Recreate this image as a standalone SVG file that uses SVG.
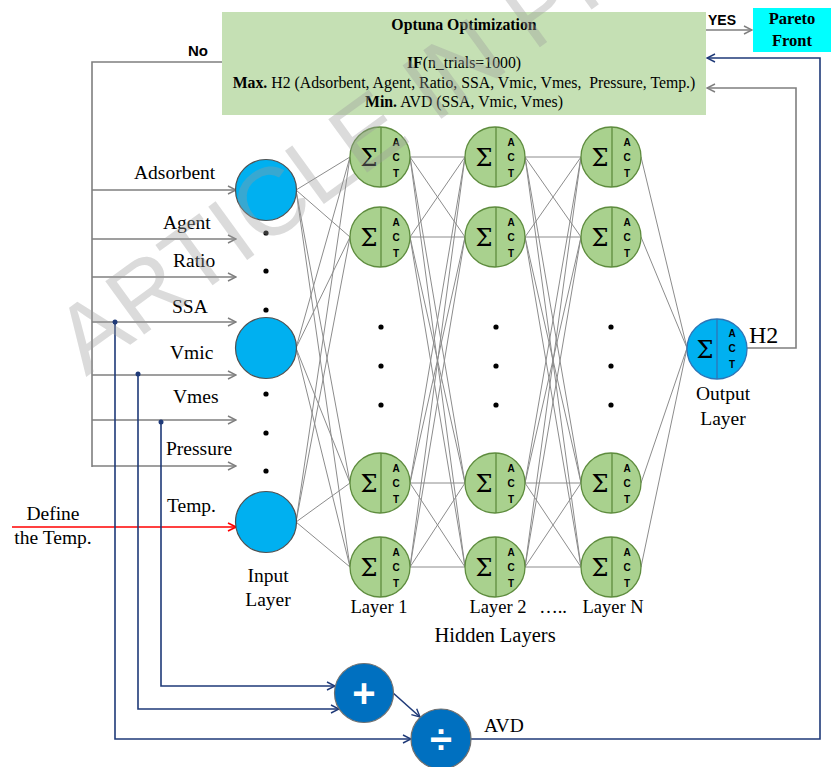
<svg xmlns="http://www.w3.org/2000/svg" width="831" height="767" viewBox="0 0 831 767">
  <style>
    .serif { font-family: "Liberation Serif", "Times New Roman", serif; fill: #000; }
    .lbl { font-size: 19.5px; }
    .head { font-size: 15.8px; }
    .b { font-weight: bold; }
    .sans { font-family: "Liberation Sans", Arial, sans-serif; font-weight: bold; fill: #000; }
    .act { font-family: "Liberation Sans", Arial, sans-serif; font-weight: bold; font-size: 10px; text-anchor: middle; fill: #000; }
    .sig { font-family: "DejaVu Serif", "Liberation Serif", serif; font-size: 24px; text-anchor: middle; fill: #000; }
    .mid { text-anchor: middle; }
    .hid { fill: #A9D18E; stroke: #5E8C3E; stroke-width: 1.3; }
    .hdiv { stroke: #5E8C3E; stroke-width: 1.3; }
    .inp { fill: #00B0F0; stroke: #505050; stroke-width: 1.2; }
    .op { fill: #0070C0; stroke: #707070; stroke-width: 1.2; }
    .wire { fill: none; stroke: #8C8C8C; stroke-width: 1; }
    .gray { fill: none; stroke: #7F7F7F; stroke-width: 1.6; }
    .navy { fill: none; stroke: #1F3A78; stroke-width: 1.6; }
    .red { fill: none; stroke: #FF0000; stroke-width: 1.6; }
    .dot { fill: #000; }
    .tap { fill: #1F3A78; }
  </style>
  <defs>
    <marker id="ahGray" viewBox="0 0 10 10" refX="9" refY="5" markerWidth="10" markerHeight="10" markerUnits="userSpaceOnUse" orient="auto">
      <path d="M1,1 L9,5 L1,9" fill="none" stroke="#7F7F7F" stroke-width="1.4"/>
    </marker>
    <marker id="ahNavy" viewBox="0 0 10 10" refX="9" refY="5" markerWidth="10" markerHeight="10" markerUnits="userSpaceOnUse" orient="auto">
      <path d="M1,1 L9,5 L1,9" fill="none" stroke="#1F3A78" stroke-width="1.4"/>
    </marker>
    <marker id="ahRed" viewBox="0 0 10 10" refX="9" refY="5" markerWidth="10" markerHeight="10" markerUnits="userSpaceOnUse" orient="auto">
      <path d="M1,1 L9,5 L1,9" fill="none" stroke="#FF0000" stroke-width="1.6"/>
    </marker>
    <!-- hidden neuron: summation half + activation half -->
    <g id="neuron">
      <circle class="hid" cx="0" cy="0" r="30"/>
      <line class="hdiv" x1="1" y1="-30" x2="1" y2="30"/>
      <text class="sig" x="-11" y="9">Σ</text>
      <text class="act" x="16" y="-11">A</text>
      <text class="act" x="16" y="4">C</text>
      <text class="act" x="16" y="20">T</text>
    </g>
  </defs>

  <rect width="831" height="767" fill="#FFFFFF"/>

  <!-- connectors -->
  <g id="connectors">
    <!-- network weights -->
    <path class="wire" d="
      M296,190 L350,157 M296,190 L350,237 M296,190 L350,483 M296,190 L350,567
      M296,348 L350,157 M296,348 L350,237 M296,348 L350,483 M296,348 L350,567
      M296,522 L350,157 M296,522 L350,237 M296,522 L350,483 M296,522 L350,567
      M410,157 L465,157 M410,157 L465,237 M410,157 L465,483 M410,157 L465,567
      M410,237 L465,157 M410,237 L465,237 M410,237 L465,483 M410,237 L465,567
      M410,483 L465,157 M410,483 L465,237 M410,483 L465,483 M410,483 L465,567
      M410,567 L465,157 M410,567 L465,237 M410,567 L465,483 M410,567 L465,567
      M525,157 L581,157 M525,157 L581,237 M525,157 L581,483 M525,157 L581,567
      M525,237 L581,157 M525,237 L581,237 M525,237 L581,483 M525,237 L581,567
      M525,483 L581,157 M525,483 L581,237 M525,483 L581,483 M525,483 L581,567
      M525,567 L581,157 M525,567 L581,237 M525,567 L581,483 M525,567 L581,567
      M641,157 L687,348 M641,237 L687,348 M641,483 L687,348 M641,567 L687,348"/>

    <!-- "No" branch feeding the inputs -->
    <path class="gray" d="M222,62 L92,62 L92,467"/>
    <line class="gray" x1="92" y1="190" x2="236" y2="190" marker-end="url(#ahGray)"/>
    <line class="gray" x1="92" y1="239" x2="236" y2="239" marker-end="url(#ahGray)"/>
    <line class="gray" x1="92" y1="277" x2="236" y2="277" marker-end="url(#ahGray)"/>
    <line class="gray" x1="92" y1="322" x2="236" y2="322" marker-end="url(#ahGray)"/>
    <line class="gray" x1="92" y1="375" x2="236" y2="375" marker-end="url(#ahGray)"/>
    <line class="gray" x1="92" y1="420" x2="236" y2="420" marker-end="url(#ahGray)"/>
    <line class="gray" x1="92" y1="466" x2="236" y2="466" marker-end="url(#ahGray)"/>

    <!-- temperature definition -->
    <line class="red" x1="12" y1="527" x2="236" y2="527" marker-end="url(#ahRed)"/>

    <!-- AVD branch: SSA, Vmic, Vmes taps -->
    <path class="navy" d="M161,422 L161,686 L335,686" marker-end="url(#ahNavy)"/>
    <path class="navy" d="M138,375 L138,709 L339,709" marker-end="url(#ahNavy)"/>
    <path class="navy" d="M115,322 L115,739 L411,739" marker-end="url(#ahNavy)"/>
    <circle class="tap" cx="161" cy="422" r="2.5"/>
    <circle class="tap" cx="138" cy="374" r="2.5"/>
    <circle class="tap" cx="115" cy="322" r="2.5"/>
    <line class="navy" x1="392" y1="692" x2="420" y2="717" marker-end="url(#ahNavy)"/>

    <!-- feedback to the optimiser -->
    <path class="navy" d="M471,739 L820,739 L820,58 L707,58" marker-end="url(#ahNavy)"/>
    <path class="gray" d="M747,348 L796,348 L796,88 L707,88" marker-end="url(#ahGray)"/>
    <line class="gray" x1="706" y1="30" x2="752" y2="30" marker-end="url(#ahGray)"/>
  </g>

  <!-- optimiser -->
  <g id="optuna">
    <rect x="222" y="12" width="484" height="103" fill="#C5E0B4"/>
    <text class="serif head b mid" x="464" y="30">Optuna Optimization</text>
    <text class="serif head mid" x="464" y="68"><tspan class="b">IF</tspan>(n_trials=1000)</text>
    <text class="serif head mid" x="464" y="88" style="white-space:pre"><tspan class="b">Max.</tspan> H2 (Adsorbent, Agent, Ratio, SSA, Vmic, Vmes,  Pressure, Temp.)</text>
    <text class="serif head mid" x="464" y="107"><tspan class="b">Min.</tspan> AVD (SSA, Vmic, Vmes)</text>
  </g>

  <g id="pareto">
    <rect x="753" y="8" width="78" height="44" fill="#00FFFF"/>
    <text class="serif b mid" x="792" y="24" font-size="16.5">Pareto</text>
    <text class="serif b mid" x="792" y="46" font-size="16.5">Front</text>
  </g>

  <g id="flags">
    <text class="sans" x="708" y="25" font-size="14">YES</text>
    <text class="sans" x="188" y="56" font-size="15">No</text>
  </g>

  <!-- input labels -->
  <g id="input-labels" class="serif lbl">
    <text x="134" y="179">Adsorbent</text>
    <text x="163" y="229">Agent</text>
    <text x="173" y="267">Ratio</text>
    <text x="172" y="313">SSA</text>
    <text x="170" y="359">Vmic</text>
    <text x="173" y="403">Vmes</text>
    <text x="166" y="455">Pressure</text>
    <text x="167" y="512">Temp.</text>
    <text class="mid" x="53" y="520">Define</text>
    <text class="mid" x="53" y="544">the Temp.</text>
  </g>

  <!-- input layer -->
  <g id="input-layer">
    <circle class="inp" cx="266" cy="190" r="30.5"/>
    <circle class="inp" cx="266" cy="348" r="30.5"/>
    <circle class="inp" cx="266" cy="522" r="30.5"/>
    <circle class="dot" cx="266" cy="233" r="2.6"/>
    <circle class="dot" cx="266" cy="271" r="2.6"/>
    <circle class="dot" cx="266" cy="310" r="2.6"/>
    <circle class="dot" cx="266" cy="394" r="2.6"/>
    <circle class="dot" cx="266" cy="433" r="2.6"/>
    <circle class="dot" cx="266" cy="471" r="2.6"/>
    <text class="serif lbl mid" x="268" y="582">Input</text>
    <text class="serif lbl mid" x="268" y="606">Layer</text>
  </g>

  <g id="hidden-layer-1">
    <use href="#neuron" x="380" y="157"/>
    <use href="#neuron" x="380" y="237"/>
    <use href="#neuron" x="380" y="483"/>
    <use href="#neuron" x="380" y="567"/>
    <circle class="dot" cx="381" cy="327" r="2.6"/>
    <circle class="dot" cx="381" cy="366" r="2.6"/>
    <circle class="dot" cx="381" cy="405" r="2.6"/>
    <text class="serif mid" x="379" y="613" font-size="18.5">Layer 1</text>
  </g>

  <g id="hidden-layer-2">
    <use href="#neuron" x="495" y="157"/>
    <use href="#neuron" x="495" y="237"/>
    <use href="#neuron" x="495" y="483"/>
    <use href="#neuron" x="495" y="567"/>
    <circle class="dot" cx="496" cy="327" r="2.6"/>
    <circle class="dot" cx="496" cy="366" r="2.6"/>
    <circle class="dot" cx="496" cy="405" r="2.6"/>
    <text class="serif mid" x="498" y="613" font-size="18.5">Layer 2</text>
    <text class="serif mid" x="553" y="613" font-size="18.5">…..</text>
  </g>

  <g id="hidden-layer-n">
    <use href="#neuron" x="611" y="157"/>
    <use href="#neuron" x="611" y="237"/>
    <use href="#neuron" x="611" y="483"/>
    <use href="#neuron" x="611" y="567"/>
    <circle class="dot" cx="611" cy="327" r="2.6"/>
    <circle class="dot" cx="611" cy="366" r="2.6"/>
    <circle class="dot" cx="611" cy="405" r="2.6"/>
    <text class="serif mid" x="613" y="613" font-size="18.5">Layer N</text>
  </g>

  <text class="serif mid" x="495" y="642" font-size="20.5">Hidden Layers</text>

  <!-- output layer -->
  <g id="output-layer">
    <circle cx="717" cy="349" r="30" fill="#00B0F0" stroke="#2E75B6" stroke-width="1.3"/>
    <line x1="717" y1="319" x2="717" y2="379" stroke="#2E75B6" stroke-width="1.3"/>
    <text class="sig" x="705" y="358">Σ</text>
    <text class="act" x="732" y="337">A</text>
    <text class="act" x="732" y="352">C</text>
    <text class="act" x="732" y="368">T</text>
    <text class="serif mid" x="723" y="400" font-size="19.5">Output</text>
    <text class="serif mid" x="723" y="425" font-size="19.5">Layer</text>
    <text class="serif" x="749" y="343" font-size="24">H2</text>
  </g>

  <!-- AVD = (Vmic + Vmes) / SSA -->
  <g id="sum">
    <circle class="op" cx="364" cy="693" r="29.5"/>
    <text x="364" y="707" font-family="Liberation Sans, Arial, sans-serif" font-size="40" font-weight="bold" fill="#FFFFFF" text-anchor="middle">+</text>
  </g>
  <g id="divide">
    <circle class="op" cx="441" cy="739" r="30"/>
    <text x="441" y="753" font-family="Liberation Sans, Arial, sans-serif" font-size="40" font-weight="bold" fill="#FFFFFF" text-anchor="middle">÷</text>
    <text class="serif" x="484" y="732" font-size="19.5">AVD</text>
  </g>

  <!-- publisher stamp -->
  <text x="86" y="377" transform="rotate(-36 86 377)" font-family="Liberation Sans, Arial, sans-serif" font-size="96" fill="#9A9A9A" fill-opacity="0.36">ARTICLE IN PRESS</text>
</svg>
